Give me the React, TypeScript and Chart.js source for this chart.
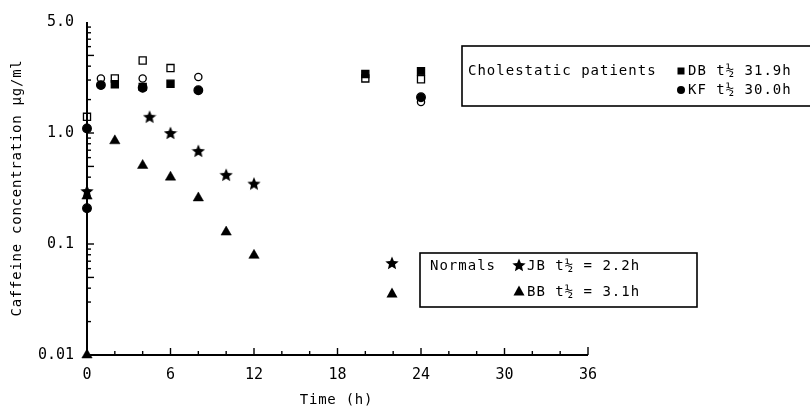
import React, { useEffect, useRef } from 'react';
import { Chart, registerables } from 'chart.js';

Chart.register(...registerables);

// ---- data ----
const xTickValues = [0, 6, 12, 18, 24, 30, 36];
const yTickValues = [0.01, 0.1, 1, 10];
const yTickLabels = ['0.01', '0.1', '1.0', '5.0'];

// Cholestatic patient DB (filled squares = serum, open squares = second sample)
const dbFilledTimes = [2, 4, 6, 20, 24];
const dbFilledValues = [2.75, 2.6, 2.78, 3.4, 3.6];
const dbOpenTimes = [0, 2, 4, 6, 20, 24];
const dbOpenValues = [1.4, 3.1, 4.5, 3.85, 3.1, 3.05];
// Cholestatic patient KF (filled / open circles)
const kfFilledTimes = [0, 0, 1, 4, 8, 24];
const kfFilledValues = [1.1, 0.21, 2.7, 2.55, 2.43, 2.1];
const kfOpenTimes = [1, 4, 8, 24];
const kfOpenValues = [3.1, 3.1, 3.2, 1.9];
// Normals
const jbTimes = [0, 4.5, 6, 8, 10, 12];
const jbValues = [0.3, 1.4, 1.0, 0.69, 0.42, 0.35];
const bbTimes = [0, 0, 2, 4, 6, 8, 10, 12];
const bbValues = [0.01, 0.27, 0.85, 0.51, 0.4, 0.26, 0.128, 0.079];

const cholestaticLabel = 'Cholestatic patients';
const dbLabel = 'DB t½ 31.9h';
const kfLabel = 'KF t½ 30.0h';
const normalsLabel = 'Normals';
const jbLabel = 'JB t½ = 2.2h';
const bbLabel = 'BB t½ = 3.1h';
const xTitle = 'Time (h)';
const yTitle = 'Caffeine concentration µg/ml';

const FONT = "'DejaVu Sans Mono', 'Liberation Mono', monospace";

function pts(xs: number[], ys: number[]) {
  return xs.map((x, i) => ({ x, y: ys[i] }));
}

function makeStar(size: number): HTMLCanvasElement {
  const c = document.createElement('canvas');
  c.width = size;
  c.height = size;
  const g = c.getContext('2d')!;
  const cx = size / 2, cy = size / 2 + 0.6;
  const R = size / 2, r = R * 0.45;
  g.beginPath();
  for (let i = 0; i < 10; i++) {
    const rad = i % 2 === 0 ? R : r;
    const a = -Math.PI / 2 + (i * Math.PI) / 5;
    const px = cx + rad * Math.cos(a);
    const py = cy + rad * Math.sin(a);
    if (i === 0) g.moveTo(px, py);
    else g.lineTo(px, py);
  }
  g.closePath();
  g.fillStyle = '#000';
  g.fill();
  return c;
}

export default function App() {
  const ref = useRef<HTMLCanvasElement | null>(null);

  useEffect(() => {
    if (!ref.current) return;
    const star = makeStar(14);

    const decor = {
      id: 'decor',
      afterDraw(chart: any) {
        const ctx = chart.ctx as CanvasRenderingContext2D;
        const { left, right, top, bottom } = chart.chartArea;
        const xs = chart.scales.x;
        const ys = chart.scales.y;
        ctx.save();
        ctx.strokeStyle = '#000';
        ctx.fillStyle = '#000';
        // axes
        ctx.lineWidth = 2;
        ctx.beginPath();
        ctx.moveTo(left, top);
        ctx.lineTo(left, bottom);
        ctx.lineTo(right, bottom);
        ctx.stroke();
        // y ticks (inward)
        ctx.lineWidth = 1.4;
        [0.01, 0.1, 1].forEach((d) => {
          for (let m = 1; m <= 9; m++) {
            const v = m * d;
            if (v <= 0.01 || v >= 10) continue;
            const yy = ys.getPixelForValue(v);
            const len = m === 1 || m === 5 ? 7 : 4;
            ctx.beginPath();
            ctx.moveTo(left, yy);
            ctx.lineTo(left + len, yy);
            ctx.stroke();
          }
        });
        // x ticks (inward)
        for (let t = 2; t <= 36; t += 2) {
          const xx = xs.getPixelForValue(t);
          const len = t === 36 ? 8 : t % 6 === 0 ? 7 : 4;
          ctx.beginPath();
          ctx.moveTo(xx, bottom);
          ctx.lineTo(xx, bottom - len);
          ctx.stroke();
        }
        // titles
        ctx.font = `14px ${FONT}`;
        (ctx as any).letterSpacing = '0.75px';
        ctx.textBaseline = 'middle';
        ctx.textAlign = 'center';
        ctx.fillText(xTitle, (xs.getPixelForValue(0) + xs.getPixelForValue(36)) / 2 - 1, 400);
        ctx.save();
        ctx.translate(17, 188);
        ctx.rotate(-Math.PI / 2);
        ctx.fillText(yTitle, 0, 0);
        ctx.restore();

        // legend boxes
        ctx.lineWidth = 1.6;
        ctx.strokeRect(462, 46, 360, 60);
        ctx.strokeRect(420, 253, 277, 54);
        (ctx as any).letterSpacing = '1px';
        ctx.textAlign = 'left';
        ctx.fillText(cholestaticLabel, 468, 71);
        ctx.fillRect(677.5, 67.5, 7, 7);
        ctx.fillText(dbLabel, 688, 71);
        ctx.beginPath();
        ctx.arc(681, 90, 4, 0, Math.PI * 2);
        ctx.fill();
        ctx.fillText(kfLabel, 688, 90);

        ctx.fillText(normalsLabel, 430, 266);
        ctx.drawImage(star, 512, 258);
        ctx.fillText(jbLabel, 527, 266);
        const tri = (cx: number, cy: number) => {
          ctx.beginPath();
          ctx.moveTo(cx, cy - 5.5);
          ctx.lineTo(cx + 5.5, cy + 4.5);
          ctx.lineTo(cx - 5.5, cy + 4.5);
          ctx.closePath();
          ctx.fill();
        };
        tri(519, 291);
        ctx.fillText(bbLabel, 527, 292);
        // stray symbols left of the box
        ctx.drawImage(star, 385, 256);
        tri(392, 293);
        ctx.restore();
      },
    };

    const base = { showLine: false, clip: false as any, borderColor: '#000', borderWidth: 1.3 };

    const chart = new Chart(ref.current, {
      type: 'scatter',
      data: {
        datasets: [
          { ...base, label: 'DB', data: pts(dbFilledTimes, dbFilledValues), pointStyle: 'rect', pointRadius: 5, backgroundColor: '#000' },
          { ...base, label: 'DB open', data: pts(dbOpenTimes, dbOpenValues), pointStyle: 'rect', pointRadius: 5, backgroundColor: '#fff' },
          { ...base, label: 'KF', data: pts(kfFilledTimes, kfFilledValues), pointStyle: 'circle', pointRadius: 4.3, backgroundColor: '#000' },
          { ...base, label: 'KF open', data: pts(kfOpenTimes, kfOpenValues), pointStyle: 'circle', pointRadius: 3.6, backgroundColor: '#fff' },
          { ...base, label: 'JB', data: pts(jbTimes, jbValues), pointStyle: star as any, pointRadius: 7, backgroundColor: '#000' },
          { ...base, label: 'BB', data: pts(bbTimes, bbValues), pointStyle: 'triangle', pointRadius: 6, backgroundColor: '#000', borderWidth: 0.5 },
        ],
      },
      options: {
        animation: false,
        responsive: false,
        events: [],
        layout: { padding: { top: 13, right: 222, left: 0, bottom: 0 } },
        plugins: { legend: { display: false }, tooltip: { enabled: false }, title: { display: false } },
        scales: {
          x: {
            type: 'linear',
            min: 0,
            max: 36,
            grid: { display: false, drawTicks: false },
            border: { display: false },
            afterFit: (s: any) => { s.height = 57; },
            afterBuildTicks: (s: any) => { s.ticks = xTickValues.map((v) => ({ value: v })); },
            ticks: {
              padding: 11,
              color: '#000',
              font: { family: FONT, size: 15 },
              callback: (v: any) => String(v),
            },
          },
          y: {
            type: 'logarithmic',
            min: 0.01,
            max: 10,
            grid: { display: false, drawTicks: false },
            border: { display: false },
            afterFit: (s: any) => { s.width = 87; },
            afterBuildTicks: (s: any) => { s.ticks = yTickValues.map((v) => ({ value: v })); },
            ticks: {
              padding: 13,
              color: '#000',
              font: { family: FONT, size: 15 },
              callback: (v: any) => {
                const i = yTickValues.findIndex((t) => Math.abs(t - Number(v)) < 1e-9);
                return i >= 0 ? yTickLabels[i] : '';
              },
            },
          },
        },
      },
      plugins: [decor],
    });
    return () => chart.destroy();
  }, []);

  return (
    <div style={{ position: 'absolute', left: 0, top: 0, width: 810, height: 412, background: '#fff' }}>
      <canvas ref={ref} width={810} height={412} style={{ display: 'block', width: 810, height: 412 }} />
    </div>
  );
}
